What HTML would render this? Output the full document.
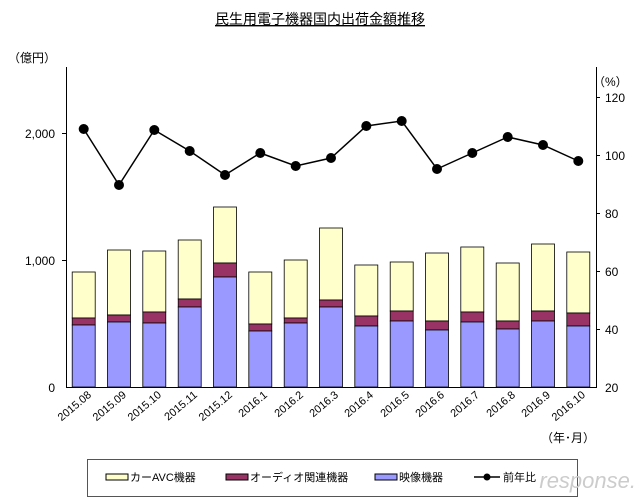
<!DOCTYPE html>
<html><head><meta charset="utf-8"><style>body{margin:0;background:#fff}svg{display:block}</style></head><body>
<svg width="640" height="501" xmlns="http://www.w3.org/2000/svg" font-family="Liberation Sans, Noto Sans CJK JP, sans-serif">
<rect x="0" y="0" width="640" height="501" fill="#fff"/>
<text x="320" y="24" text-anchor="middle" font-size="14" text-decoration="underline">民生用電子機器国内出荷金額推移</text>
<text x="8" y="62" font-size="12">（億円）</text>
<text x="593" y="86" font-size="12">（%）</text>
<g stroke="#000" stroke-width="0.8">
<rect x="72.2" y="272" width="23" height="46" fill="#ffffcc"/><rect x="72.2" y="318" width="23" height="7" fill="#993366"/><rect x="72.2" y="325" width="23" height="62" fill="#9999ff"/>
<rect x="107.5" y="250" width="23" height="65" fill="#ffffcc"/><rect x="107.5" y="315" width="23" height="7" fill="#993366"/><rect x="107.5" y="322" width="23" height="65" fill="#9999ff"/>
<rect x="142.8" y="251" width="23" height="61" fill="#ffffcc"/><rect x="142.8" y="312" width="23" height="11" fill="#993366"/><rect x="142.8" y="323" width="23" height="64" fill="#9999ff"/>
<rect x="178.2" y="240" width="23" height="59" fill="#ffffcc"/><rect x="178.2" y="299" width="23" height="8" fill="#993366"/><rect x="178.2" y="307" width="23" height="80" fill="#9999ff"/>
<rect x="213.5" y="207" width="23" height="56" fill="#ffffcc"/><rect x="213.5" y="263" width="23" height="14" fill="#993366"/><rect x="213.5" y="277" width="23" height="110" fill="#9999ff"/>
<rect x="248.8" y="272" width="23" height="52" fill="#ffffcc"/><rect x="248.8" y="324" width="23" height="7" fill="#993366"/><rect x="248.8" y="331" width="23" height="56" fill="#9999ff"/>
<rect x="284.2" y="260" width="23" height="58" fill="#ffffcc"/><rect x="284.2" y="318" width="23" height="5" fill="#993366"/><rect x="284.2" y="323" width="23" height="64" fill="#9999ff"/>
<rect x="319.5" y="228" width="23" height="72" fill="#ffffcc"/><rect x="319.5" y="300" width="23" height="7" fill="#993366"/><rect x="319.5" y="307" width="23" height="80" fill="#9999ff"/>
<rect x="354.8" y="265" width="23" height="51" fill="#ffffcc"/><rect x="354.8" y="316" width="23" height="10" fill="#993366"/><rect x="354.8" y="326" width="23" height="61" fill="#9999ff"/>
<rect x="390.2" y="262" width="23" height="49" fill="#ffffcc"/><rect x="390.2" y="311" width="23" height="10" fill="#993366"/><rect x="390.2" y="321" width="23" height="66" fill="#9999ff"/>
<rect x="425.5" y="253" width="23" height="68" fill="#ffffcc"/><rect x="425.5" y="321" width="23" height="9" fill="#993366"/><rect x="425.5" y="330" width="23" height="57" fill="#9999ff"/>
<rect x="460.8" y="247" width="23" height="65" fill="#ffffcc"/><rect x="460.8" y="312" width="23" height="10" fill="#993366"/><rect x="460.8" y="322" width="23" height="65" fill="#9999ff"/>
<rect x="496.2" y="263" width="23" height="58" fill="#ffffcc"/><rect x="496.2" y="321" width="23" height="8" fill="#993366"/><rect x="496.2" y="329" width="23" height="58" fill="#9999ff"/>
<rect x="531.5" y="244" width="23" height="67" fill="#ffffcc"/><rect x="531.5" y="311" width="23" height="10" fill="#993366"/><rect x="531.5" y="321" width="23" height="66" fill="#9999ff"/>
<rect x="566.8" y="252" width="23" height="61" fill="#ffffcc"/><rect x="566.8" y="313" width="23" height="13" fill="#993366"/><rect x="566.8" y="326" width="23" height="61" fill="#9999ff"/>
</g>
<g stroke="#000" stroke-width="1">
<line x1="66.5" y1="67" x2="66.5" y2="387"/>
<line x1="596.5" y1="67" x2="596.5" y2="387"/>
<line x1="66" y1="387.5" x2="597" y2="387.5"/>
<line x1="62" y1="260.5" x2="66" y2="260.5"/><line x1="62" y1="133.5" x2="66" y2="133.5"/>
<line x1="596" y1="97.5" x2="600" y2="97.5"/><line x1="596" y1="155.5" x2="600" y2="155.5"/><line x1="596" y1="213.5" x2="600" y2="213.5"/><line x1="596" y1="271.5" x2="600" y2="271.5"/><line x1="596" y1="329.5" x2="600" y2="329.5"/>
</g>
<g font-size="12">
<text x="55" y="392" text-anchor="end">0</text>
<text x="55" y="265" text-anchor="end">1,000</text>
<text x="55" y="138" text-anchor="end">2,000</text>
<text x="605" y="392">20</text><text x="605" y="334">40</text><text x="605" y="276">60</text><text x="605" y="218">80</text><text x="605" y="160">100</text><text x="605" y="102">120</text>
</g>
<polyline fill="none" stroke="#000" stroke-width="1.5" points="83.7,129 119,185 154.3,130 189.7,151 225,175 260.3,153 295.7,166 331,158 366.3,126 401.7,121 437,169 472.3,153 507.7,137 543,145 578.3,161"/>
<g fill="#000">
<circle cx="83.7" cy="129" r="5"/><circle cx="119" cy="185" r="5"/><circle cx="154.3" cy="130" r="5"/><circle cx="189.7" cy="151" r="5"/><circle cx="225" cy="175" r="5"/><circle cx="260.3" cy="153" r="5"/><circle cx="295.7" cy="166" r="5"/><circle cx="331" cy="158" r="5"/><circle cx="366.3" cy="126" r="5"/><circle cx="401.7" cy="121" r="5"/><circle cx="437" cy="169" r="5"/><circle cx="472.3" cy="153" r="5"/><circle cx="507.7" cy="137" r="5"/><circle cx="543" cy="145" r="5"/><circle cx="578.3" cy="161" r="5"/>
</g>
<g font-size="11" text-anchor="end">
<text transform="translate(92,396) rotate(-40)">2015.08</text>
<text transform="translate(127,396) rotate(-40)">2015.09</text>
<text transform="translate(162,396) rotate(-40)">2015.10</text>
<text transform="translate(198,396) rotate(-40)">2015.11</text>
<text transform="translate(233,396) rotate(-40)">2015.12</text>
<text transform="translate(268,396) rotate(-40)">2016.1</text>
<text transform="translate(304,396) rotate(-40)">2016.2</text>
<text transform="translate(339,396) rotate(-40)">2016.3</text>
<text transform="translate(374,396) rotate(-40)">2016.4</text>
<text transform="translate(410,396) rotate(-40)">2016.5</text>
<text transform="translate(445,396) rotate(-40)">2016.6</text>
<text transform="translate(480,396) rotate(-40)">2016.7</text>
<text transform="translate(516,396) rotate(-40)">2016.8</text>
<text transform="translate(551,396) rotate(-40)">2016.9</text>
<text transform="translate(586,396) rotate(-40)">2016.10</text>
</g>
<text x="595" y="442" font-size="12" text-anchor="end">（年･月）</text>
<rect x="87.5" y="459.5" width="490" height="37" fill="#fff" stroke="#555"/>
<g font-size="11">
<rect x="106" y="474" width="22" height="6" fill="#ffffcc" stroke="#000"/><text x="130" y="481">カーAVC機器</text>
<rect x="226" y="474" width="22" height="6" fill="#993366" stroke="#000"/><text x="250" y="481">オーディオ関連機器</text>
<rect x="375" y="474" width="22" height="6" fill="#9999ff" stroke="#000"/><text x="399" y="481">映像機器</text>
<line x1="474" y1="477" x2="500" y2="477" stroke="#000" stroke-width="1.5"/><circle cx="487" cy="477" r="3.5"/><text x="503" y="481">前年比</text>
</g>
<text x="636" y="488" font-size="22" fill="#ccc" text-anchor="end" font-style="italic">response.</text>
</svg>
</body></html>
